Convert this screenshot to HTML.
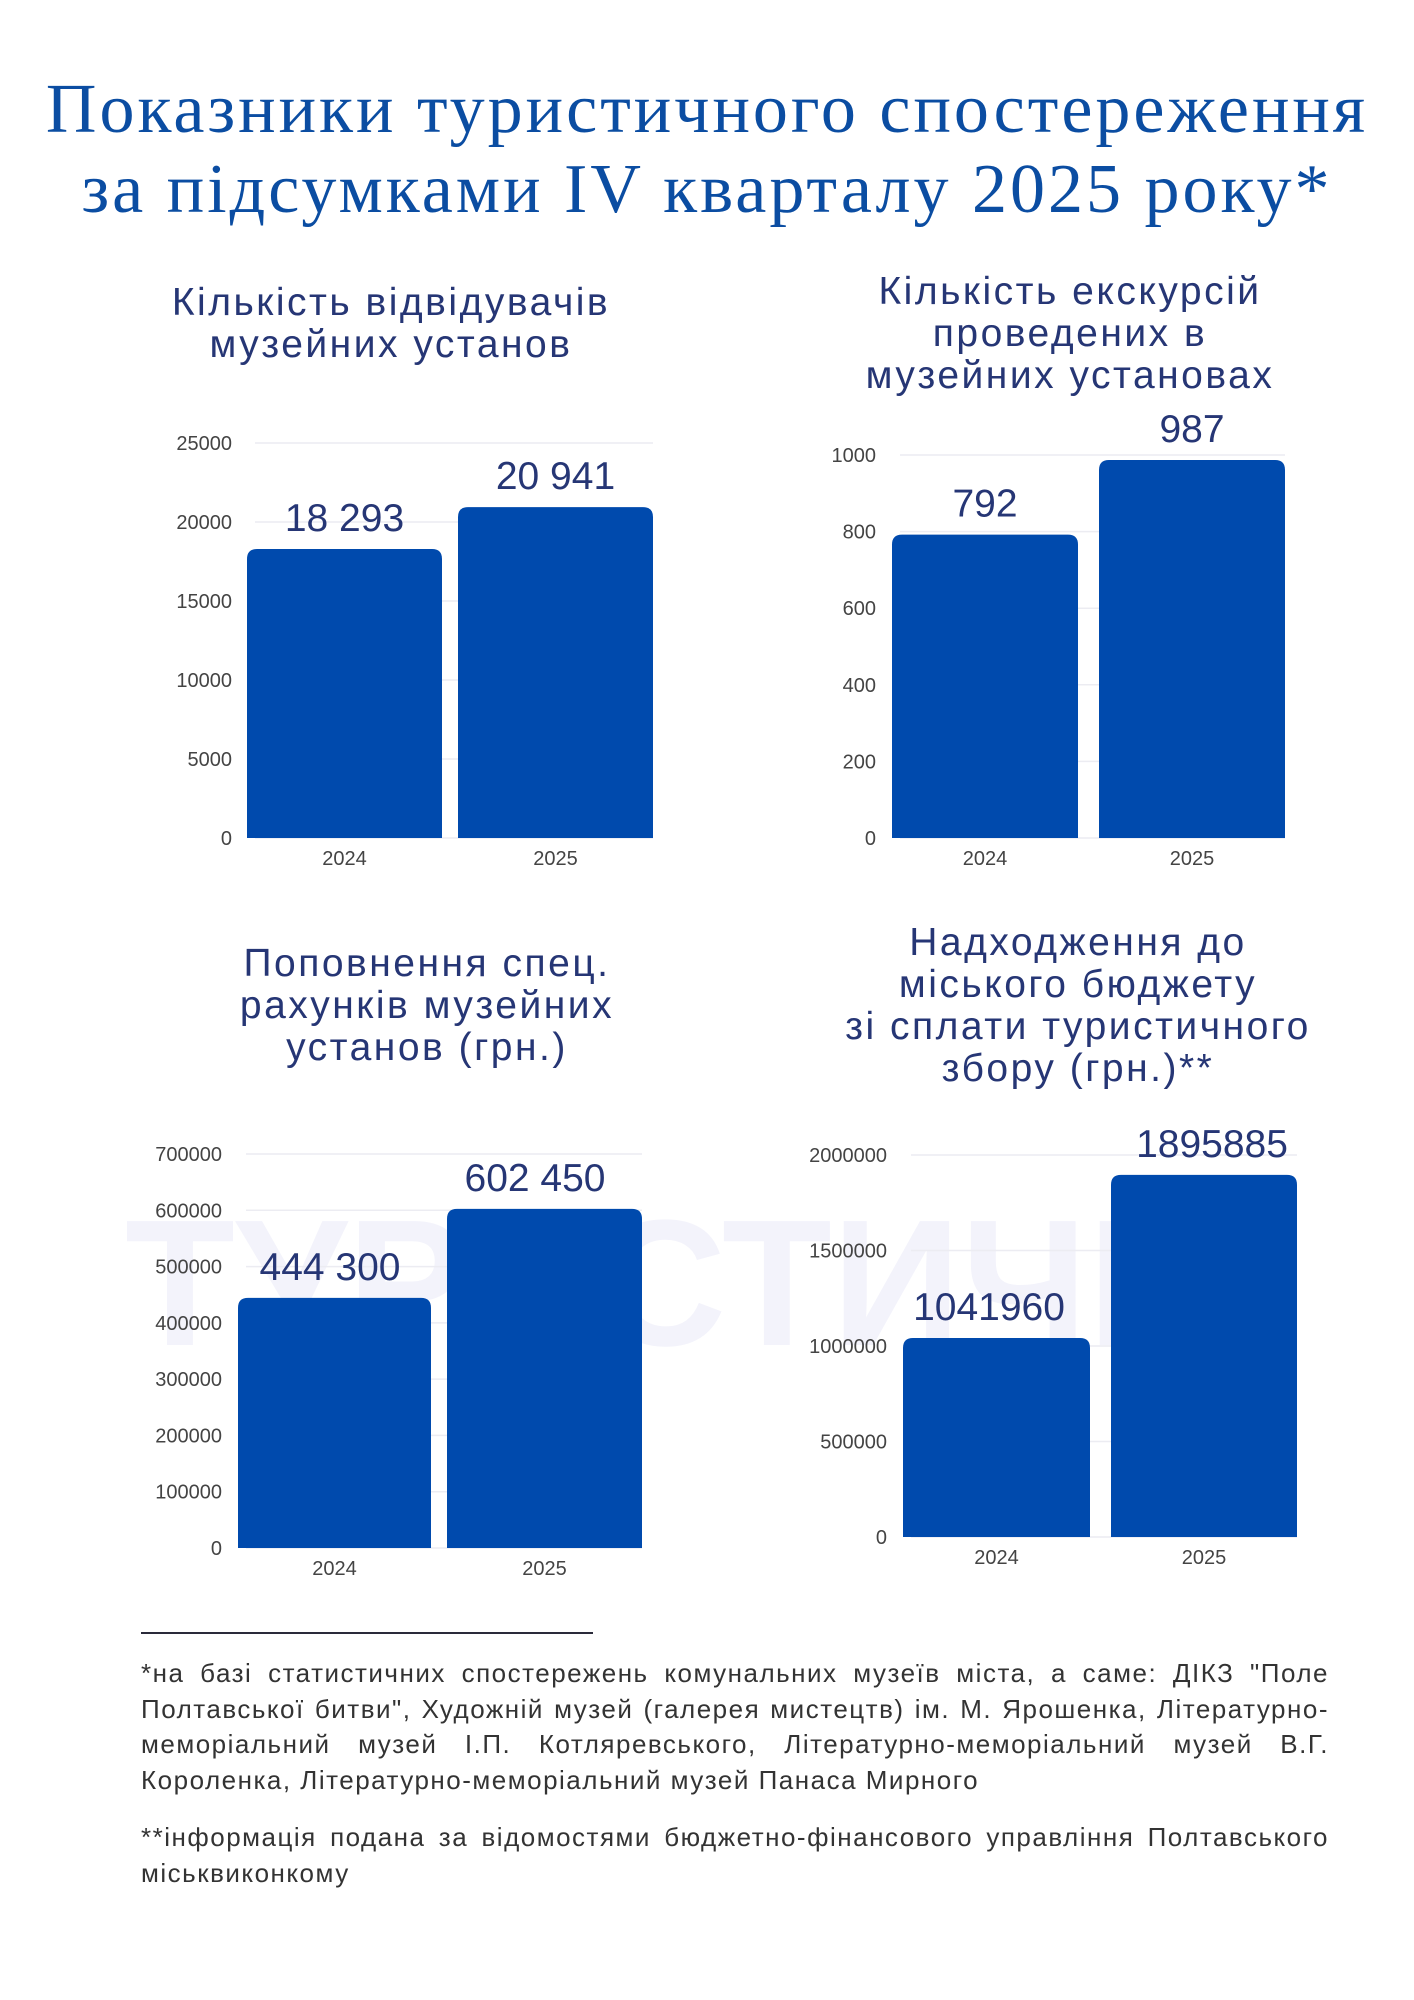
<!DOCTYPE html>
<html lang="uk"><head><meta charset="utf-8">
<style>
html,body{margin:0;padding:0;background:#fff;}
body{width:1414px;height:2000px;position:relative;overflow:hidden;font-family:"Liberation Sans",sans-serif;}
.title{position:absolute;left:0;width:1414px;text-align:center;color:#0b4da2;font-family:"Liberation Serif",serif;font-size:70px;letter-spacing:3px;line-height:80px;top:70px;}
.ctitle{position:absolute;text-align:center;color:#263675;font-size:39px;letter-spacing:2.5px;line-height:42px;}
.foot{position:absolute;left:141px;width:1188px;color:#333;font-size:26px;letter-spacing:1.5px;line-height:35.5px;text-align:justify;}
.wm{position:absolute;color:#f3f3fb;font-weight:bold;font-size:180px;left:125px;top:1180px;letter-spacing:0px;}
svg{position:absolute;left:0;top:0;}
</style></head><body>
<div class="wm">ТУРИСТИЧН</div>
<div class="title">Показники туристичного спостереження<br>за підсумками IV кварталу 2025 року*</div>
<div class="ctitle" style="left:111px;width:560px;top:282px;">Кількість відвідувачів<br>музейних установ</div>
<div class="ctitle" style="left:790px;width:560px;top:271px;">Кількість екскурсій<br>проведених в<br>музейних установах</div>
<div class="ctitle" style="left:147px;width:560px;top:943px;">Поповнення спец.<br>рахунків музейних<br>установ (грн.)</div>
<div class="ctitle" style="left:768px;width:620px;top:922px;">Надходження до<br>міського бюджету<br>зі сплати туристичного<br>збору (грн.)**</div>
<svg id="charts" width="1414" height="2000"></svg>
<div style="position:absolute;left:141px;top:1632px;width:452px;height:2px;background:#2a2a3a;"></div>
<div class="foot" style="top:1656px;">*на базі статистичних спостережень комунальних музеїв міста, а саме: ДІКЗ "Поле Полтавської битви", Художній музей (галерея мистецтв) ім. М. Ярошенка, Літературно-меморіальний музей І.П. Котляревського, Літературно-меморіальний музей В.Г. Короленка, Літературно-меморіальний музей Панаса Мирного</div>
<div class="foot" style="top:1820px;">**інформація подана за відомостями бюджетно-фінансового управління Полтавського міськвиконкому</div>
<script>
const categories = ["2024","2025"];
const visitors = [18293, 20941];
const visitorLabels = ["18 293","20 941"];
const visitorTicks = [0,5000,10000,15000,20000,25000];
const excursions = [792, 987];
const excursionLabels = ["792","987"];
const excursionTicks = [0,200,400,600,800,1000];
const specAccounts = [444300, 602450];
const specLabels = ["444 300","602 450"];
const specTicks = [0,100000,200000,300000,400000,500000,600000,700000];
const taxIncome = [1041960, 1895885];
const taxLabels = ["1041960","1895885"];
const taxTicks = [0,500000,1000000,1500000,2000000];

const NS="http://www.w3.org/2000/svg";
const svg=document.getElementById('charts');
function mk(tag,attrs,parent){const e=document.createElementNS(NS,tag);for(const k in attrs)e.setAttribute(k,attrs[k]);(parent||svg).appendChild(e);return e;}
function chart(id,cfg,vals,labels,ticks){
  const g=mk('g',{});
  
  
  const max=ticks[ticks.length-1];
  const y=v=>cfg.y0-(v/max)*(cfg.y0-cfg.yTop);
  ticks.forEach(t=>{
    const l=mk('line',{x1:cfg.gx,x2:cfg.bars[1][1],y1:y(t),y2:y(t),stroke:'#ececf2','stroke-width':1.5},g);
    
    
    const tx=mk('text',{x:cfg.lx,y:y(t)+7,'text-anchor':'end','font-size':20,fill:'#444','font-family':'Liberation Sans, sans-serif'},g);
    tx.textContent=t;
    
    
  });
  vals.forEach((v,i)=>{
    const [x1,x2]=cfg.bars[i];const top=y(v),r=10;
    const p=mk('path',{d:`M${x1},${cfg.y0}V${top+r}Q${x1},${top} ${x1+r},${top}H${x2-r}Q${x2},${top} ${x2},${top+r}V${cfg.y0}Z`,fill:'#004aad'},g);
    
    
    const lx=cfg.labX?cfg.labX[i]:(x1+x2)/2;
    const vt=mk('text',{x:lx,y:top-cfg.labOff,'text-anchor':'middle','font-size':39,fill:'#263675','font-family':'Liberation Sans, sans-serif'},g);
    vt.textContent=labels[i];
    
    
    const ct=mk('text',{x:(x1+x2)/2,y:cfg.y0+27,'text-anchor':'middle','font-size':20,fill:'#444','font-family':'Liberation Sans, sans-serif'},g);
    ct.textContent=categories[i];
    
    
  });
}
chart('visitors-chart',{y0:838,yTop:443,gx:255,lx:232,bars:[[247,442],[458,653]],labOff:18},visitors,visitorLabels,visitorTicks);
chart('excursions-chart',{y0:838,yTop:455,gx:900,lx:876,bars:[[892,1078],[1099,1285]],labOff:18},excursions,excursionLabels,excursionTicks);
chart('spec-accounts-chart',{y0:1548,yTop:1154,gx:246,lx:222,bars:[[238,431],[447,642]],labOff:18,labX:[330,535]},specAccounts,specLabels,specTicks);
chart('tourist-tax-chart',{y0:1537,yTop:1155,gx:911,lx:887,bars:[[903,1090],[1111,1297]],labOff:18,labX:[989,1212]},taxIncome,taxLabels,taxTicks);
</script>
</body></html>
